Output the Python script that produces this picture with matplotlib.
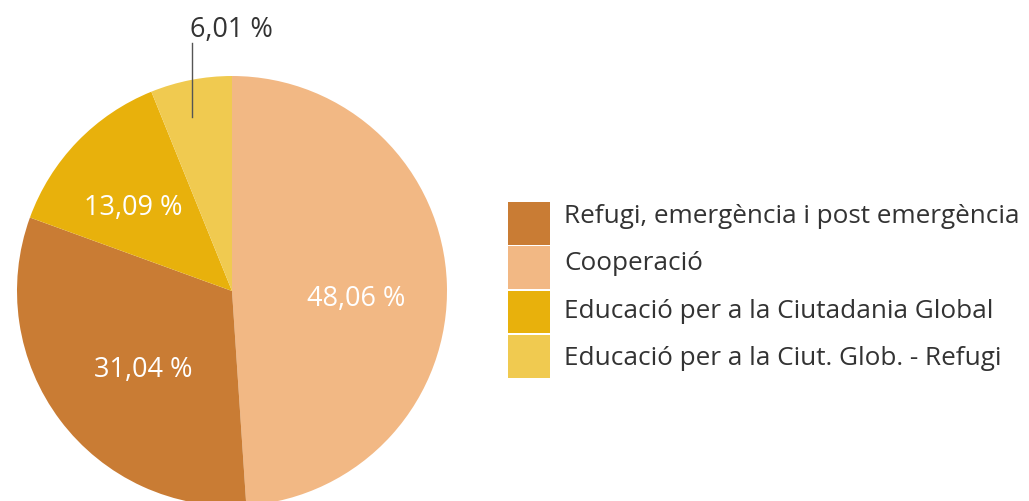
import matplotlib.pyplot as plt
from matplotlib.patches import Rectangle
import numpy as np

# values, in drawing order (clockwise from 12 o'clock)
pie_labels = ["Cooperació", "Refugi, emergència i post emergència",
              "Educació per a la Ciutadania Global", "Educació per a la Ciut. Glob. - Refugi"]
pie_values = [48.06, 31.04, 13.09, 6.01]
pie_colors = ["#F2B884", "#C97C34", "#E8B10C", "#F0CA50"]
pct_text = ["48,06 %", "31,04 %", "13,09 %", "6,01 %"]

# legend order as in the original
legend_labels = ["Refugi, emergència i post emergència", "Cooperació",
                 "Educació per a la Ciutadania Global", "Educació per a la Ciut. Glob. - Refugi"]

plt.rcParams['font.family'] = ['Open Sans', 'DejaVu Sans']

W, H = 1029, 502
fig = plt.figure(figsize=(W / 100, H / 100), dpi=100)

# pie centre ~ (232, 292) px, radius ~215 px
cx, cy, r = 232, 292, 215
ax = fig.add_axes([(cx - r) / W, (H - cy - r) / H, 2 * r / W, 2 * r / H])
wedges, _ = ax.pie(pie_values, colors=pie_colors, startangle=90, counterclock=False,
                   radius=1, wedgeprops=dict(linewidth=0))
ax.set_xlim(-1, 1)
ax.set_ylim(-1, 1)
ax.set_aspect('equal')
ax.axis('off')

# labels inside the wedges (baseline placed a bit below wedge-mid point)
label_r = [0.58, 0.515, 0.635]
for w, t, rr in zip(wedges[:3], pct_text[:3], label_r):
    ang = np.deg2rad((w.theta1 + w.theta2) / 2)
    ax.text(rr * np.cos(ang), rr * np.sin(ang) - 0.085, t, ha='center', va='baseline',
            color='white', fontsize=19.5, clip_on=False)

# small slice label outside with leader line
ax.plot([-0.186, -0.186], [0.81, 1.155], color='#555555', lw=1, clip_on=False)
ax.text(-0.196, 1.185, pct_text[3], ha='left', va='baseline', color='#333333',
        fontsize=19.5, clip_on=False)

# legend drawn as stacked squares
lax = fig.add_axes([0, 0, 1, 1])
lax.set_xlim(0, W)
lax.set_ylim(H, 0)
lax.axis('off')
y0, step = 203, 44.3
for i, lab in enumerate(legend_labels):
    col = pie_colors[pie_labels.index(lab)]
    lax.add_patch(Rectangle((508, y0 + i * step), 42, step - 1.5, color=col, lw=0))
    lax.text(564, 223 + i * 47.3, lab, ha='left', va='baseline',
             color='#333333', fontsize=18.8)

fig.savefig('out.png', dpi=100)
